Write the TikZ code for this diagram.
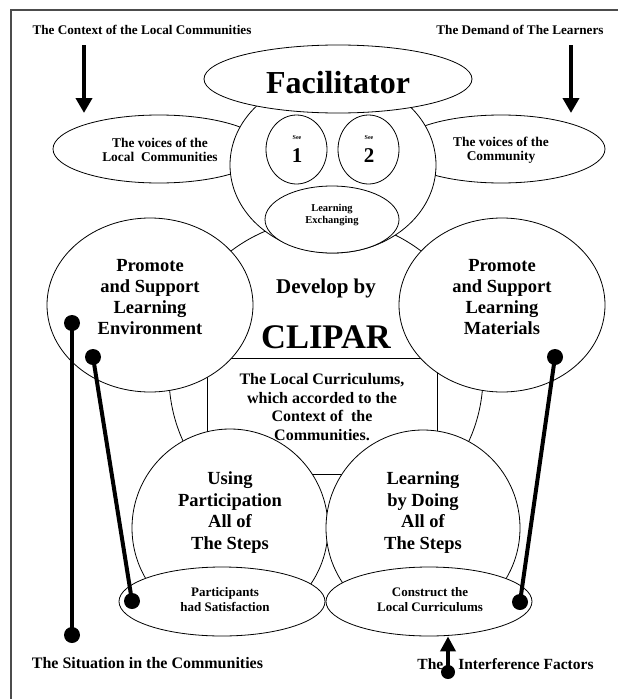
\documentclass[tikz,border=0pt]{standalone}
\usepackage{fontspec}
\setmainfont{Liberation Serif}
\usetikzlibrary{shapes.geometric,arrows.meta}

\tikzset{
  oval/.style={draw, ellipse, fill=white, line width=0.8pt},
  dot/.style={circle, fill=black, minimum size=16pt},
  stem/.style={line width=4pt},
  push/.style={line width=4pt, -{Triangle[length=15pt,width=16pt]}},
  txt/.style 2 args={align=center, font=\bfseries\fontsize{#1}{#2}\selectfont},
}

\begin{document}
\begin{tikzpicture}[x=1pt,y=-1pt]
\tikzstyle{every node}+=[inner sep=0pt]
\useasboundingbox (0,0) rectangle (618,699);

% frame
\draw [gray!60!black, line width=1.5pt] (11,699) -- (11,10) -- (618,10);

% what shows between the bubbles
\draw [line width=0.8pt] (207,358) rectangle (437,474);
\draw [line width=0.8pt] (326,376) circle (157pt);

% voices on both sides
\node [oval, minimum width=212pt, minimum height=68pt] (voiceL) at (159,149) {};
\node [oval, minimum width=208pt, minimum height=68pt] (voiceR) at (501,149) {};

% facilitator and its inner bubbles
\node [oval, minimum width=206pt, minimum height=176pt] (hub) at (333,165) {};
\node [oval, minimum width=268pt, minimum height=68pt] (facil) at (338,79) {};
\node [oval, minimum width=61pt, minimum height=69pt] (see1) at (296.5,149.5) {};
\node [oval, minimum width=61pt, minimum height=69pt] (see2) at (368.5,149.5) {};
\node [oval, minimum width=134pt, minimum height=67pt] (lex) at (332,219.5) {};

% promote bubbles
\node [oval, minimum width=206pt, minimum height=174pt] (envE) at (150,305) {};
\node [oval, minimum width=206pt, minimum height=174pt] (matE) at (502,305) {};

% lower circles and their ellipses
\node [oval, minimum width=196pt, minimum height=198pt] (useC) at (230,528) {};
\node [oval, minimum width=194pt, minimum height=196pt] (doC) at (423,528) {};
\node [oval, minimum width=206pt, minimum height=69pt] (partE) at (222,601.5) {};
\node [oval, minimum width=206pt, minimum height=69pt] (consE) at (429,601.5) {};

% texts
\node [txt={13.2}{15}] (ctxT) at (142,30) {The Context of the Local Communities};
\node [txt={13.2}{15}] (demT) at (520,30) {The Demand of The Learners};
\node [txt={32}{34}] (facT) at (338,83) {Facilitator};
\node [txt={13.4}{14.5}] (voiceLT) at (160,150) {The voices of the\\Local\ \ Communities};
\node [txt={13.4}{14.5}] (voiceRT) at (501,150) {The voices of the\\Community};
\node [txt={6}{7}] (see1a) at (297,138) {See};
\node [txt={21}{22}] (see1b) at (297,156) {1};
\node [txt={6}{7}] (see2a) at (369,138) {See};
\node [txt={21}{22}] (see2b) at (369,156) {2};
\node [txt={10.5}{12}] (lexT) at (332,215) {Learning\\Exchanging};
\node [txt={18.5}{21}] (envT) at (150,297) {Promote\\and Support\\Learning\\Environment};
\node [txt={18.5}{21}] (matT) at (502,297) {Promote\\and Support\\Learning\\Materials};
\node [txt={21}{22}] (devT) at (326,288) {Develop by};
\node [txt={34.5}{36}] (clipT) at (326,337) {CLIPAR};
\node [txt={16}{18.7}] (curT) at (322,407) {The Local Curriculums,\\which accorded to the\\Context of\ \ the\\Communities.};
\node [txt={18.5}{21.5}] (useT) at (230,512.5) {Using\\Participation\\All of\\The Steps};
\node [txt={18.5}{21.5}] (doT) at (423,512.5) {Learning\\by Doing\\All of\\The Steps};
\node [txt={13}{15}] (partT) at (225,600) {Participants\\had Satisfaction};
\node [txt={13}{15}] (consT) at (430,600) {Construct the\\Local Curriculums};
\node [txt={16}{18}] (sitT) at (147.5,663) {The Situation in the Communities};
\node [txt={15.5}{18}] (infT) at (505.5,664) {The\hspace{15pt}Interference Factors};

% incoming arrows
\coordinate (ctxA) at (84,45);
\coordinate (ctxB) at (84,113);
\draw [push] (ctxA) -- (ctxB);
\coordinate (demA) at (571,45);
\coordinate (demB) at (571,113);
\draw [push] (demA) -- (demB);

% situation lines
\node [dot] (sitA) at (72,323) {};
\node [dot] (sitB) at (72,635) {};
\draw [stem] (sitA.center) -- (sitB.center);
\node [dot] (envDot) at (93,357) {};
\node [dot] (partDot) at (132,601) {};
\draw [stem] (envDot.center) -- (partDot.center);
\node [dot] (matDot) at (555,357) {};
\node [dot] (consDot) at (520,602) {};
\draw [stem] (matDot.center) -- (consDot.center);

% interference
\node [dot, minimum size=14pt] (infDot) at (448,672) {};
\draw [line width=4pt, -{Triangle[length=15pt,width=15pt]}] (infDot.center) -- (infDot.center |- consE.south);
\end{tikzpicture}
\end{document}
